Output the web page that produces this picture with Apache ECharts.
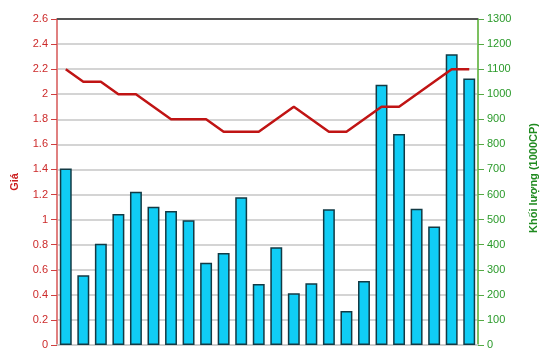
<!DOCTYPE html>
<html><head><meta charset="utf-8">
<script src="https://cdn.jsdelivr.net/npm/echarts@6/dist/echarts.min.js"></script>
<style>html,body{margin:0;padding:0;background:#fff}#c{width:550px;height:364px}</style>
</head><body><div id="c"></div>
<script>
const categories = ['1','2','3','4','5','6','7','8','9','10','11','12','13','14','15','16','17','18','19','20','21','22','23','24'];
const price = [2.2,2.1,2.1,2.0,2.0,1.9,1.8,1.8,1.8,1.7,1.7,1.7,1.8,1.9,1.8,1.7,1.7,1.8,1.9,1.9,2.0,2.1,2.2,2.2];
const volume = [704,278,404,522,611,551,534,497,328,367,589,243,390,206,246,541,136,255,1038,841,543,473,1159,1063];
const priceTitle = 'Giá';
const volumeTitle = 'Khối lượng (1000CP)';

const chart = echarts.init(document.getElementById('c'), null, {renderer:'canvas'});
const font = 'Liberation Sans, Arial, sans-serif';
chart.setOption({
  animation:false,
  grid:{left:57,right:72,top:19,bottom:19,show:true,borderColor:'transparent',containLabel:false,outerBoundsMode:'none'},
  xAxis:{type:'category',data:categories,
    axisLine:{show:true,lineStyle:{color:'#cfcfcf',width:2}},
    axisTick:{show:false},axisLabel:{show:false},splitLine:{show:false}},
  yAxis:[
    {type:'value',min:0,max:2.6,interval:0.2,position:'left',
     name:priceTitle,nameLocation:'middle',nameGap:37,nameRotate:90,
     nameTextStyle:{color:'#cc1f1f',fontWeight:'bold',fontSize:11,fontFamily:font},
     axisLine:{show:true,lineStyle:{color:'#e08080',width:2}},
     axisTick:{show:true,length:6,lineStyle:{color:'#d04040',width:1}},
     axisLabel:{color:'#cc2a2a',fontSize:11,fontFamily:font,margin:9,
       formatter:v=>String(Math.round(v*10)/10)},
     splitLine:{show:true,lineStyle:{color:'#d4d4d4',width:2}}},
    {type:'value',min:0,max:1300,interval:100,position:'right',
     name:volumeTitle,nameLocation:'middle',nameGap:50,nameRotate:90,
     nameTextStyle:{color:'#1f8a1f',fontWeight:'bold',fontSize:11,fontFamily:font,padding:[0,0,0,8]},
     axisLine:{show:true,lineStyle:{color:'#7cc060',width:2}},
     axisTick:{show:true,length:6,lineStyle:{color:'#55aa44',width:1}},
     axisLabel:{color:'#2a9a2a',fontSize:11,fontFamily:font,margin:9,formatter:v=>String(v)},
     splitLine:{show:false}}
  ],
  series:[
    {type:'bar',yAxisIndex:1,data:volume,barWidth:'68%',z:2,
     itemStyle:{color:'#10cdf5',borderColor:'#123a44',borderWidth:1.5}},
    {type:'line',yAxisIndex:0,data:price,symbol:'none',z:3,
     lineStyle:{color:'#c01414',width:2.5}}
  ],
  graphic:[{type:'line',shape:{x1:57,y1:19,x2:478,y2:19},style:{stroke:'#555',lineWidth:2},z:10}]
});
</script></body></html>
